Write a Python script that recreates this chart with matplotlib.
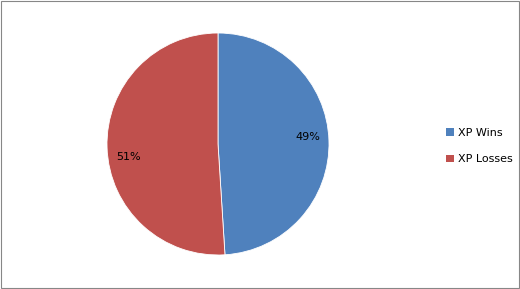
import matplotlib
matplotlib.use("Agg")
import matplotlib.pyplot as plt
import numpy as np
from matplotlib.patches import Rectangle, Patch

# Datos
labels = ['XP Wins', 'XP Losses']
values = [49, 51]
colors = ['#4F81BD', '#C0504D']

plt.rcParams['font.family'] = ['DejaVu Sans']

fig = plt.figure(figsize=(5.2, 2.89), dpi=100)

# Area del pie (en pixeles: x 107-329, y 33-255)
ax = fig.add_axes([107 / 520, 34 / 289, 222 / 520, 222 / 289])
wedges, texts, autotexts = ax.pie(
    values, colors=colors, startangle=90, counterclock=False,
    autopct='%1.0f%%', pctdistance=0.81,
    wedgeprops=dict(edgecolor='white', linewidth=0.6),
    textprops=dict(fontsize=8, color='black'))
ax.set_xlim(-1.0, 1.0)
ax.set_ylim(-1.0, 1.0)
ax.set_aspect('equal')

# Ajuste de la posicion de las etiquetas (como Excel)
label_angles = [4.5, 188.0]
for t, a in zip(autotexts, label_angles):
    t.set_position((0.81 * np.cos(np.radians(a)), 0.81 * np.sin(np.radians(a))))

# Leyenda
handles = [Patch(facecolor=c, edgecolor='none') for c in colors]
fig.legend(handles, labels, loc='center left', bbox_to_anchor=(436 / 520, 143 / 289),
           frameon=False, fontsize=8, handlelength=0.7, handleheight=0.7,
           handletextpad=0.4, labelspacing=1.5)

# Borde de la figura
fig.patches.append(Rectangle((0.5 / 520, 1.0 / 289), 1 - 1.5 / 520, 1 - 2.0 / 289,
                             transform=fig.transFigure, fill=False,
                             edgecolor='#878787', linewidth=0.8))

fig.savefig('out.png', dpi=100)
